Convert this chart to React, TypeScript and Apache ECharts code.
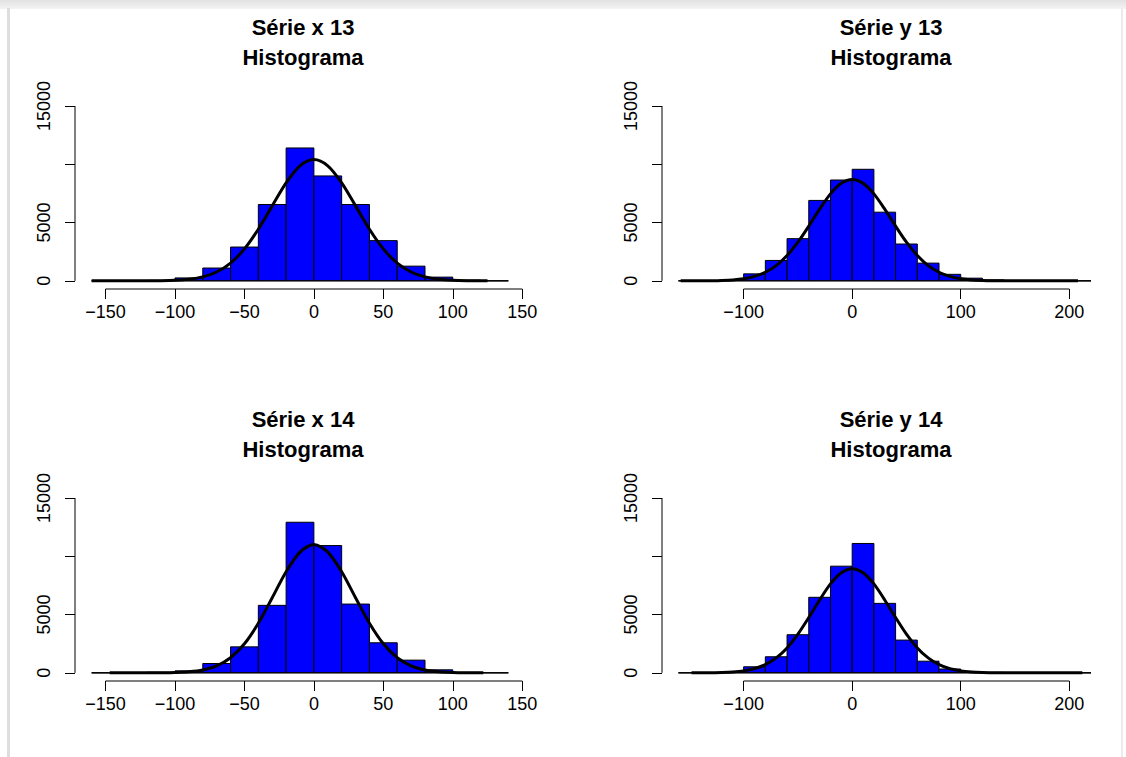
import React, { useEffect, useRef } from "react";
import * as echarts from "echarts";

const FONT = '"Liberation Sans", Arial, Helvetica, sans-serif';

// Histogram breaks
const breaksX = [-160, -140, -120, -100, -80, -60, -40, -20, 0, 20, 40, 60, 80, 100, 120, 140];
const breaksY = [-160, -140, -120, -100, -80, -60, -40, -20, 0, 20, 40, 60, 80, 100, 120, 140, 160, 180, 200, 220];

// Counts per bin
const countsX13 = [0, 5, 40, 250, 1100, 2900, 6550, 11400, 9000, 6550, 3450, 1260, 320, 60, 5];
const countsY13 = [5, 20, 90, 600, 1750, 3620, 6900, 8650, 9570, 5890, 3160, 1520, 560, 230, 80, 25, 10, 3, 1];
const countsX14 = [2, 10, 50, 170, 800, 2230, 5790, 12920, 10920, 5900, 2580, 1090, 260, 40, 5];
const countsY14 = [5, 25, 110, 520, 1380, 3270, 6480, 9150, 11100, 5960, 2810, 1000, 330, 110, 40, 15, 5, 2, 1];

// Density curves
const curveX13x = [-160, -150, -140, -130, -120, -110, -100, -90, -80, -70, -60, -50, -40, -30, -20, -10, 0, 10, 20, 30, 40, 50, 60, 70, 80, 90, 100, 110, 120, 125];
const curveX13y = [0, 0, 0, 1, 5, 15, 50, 140, 340, 760, 1520, 2740, 4430, 6430, 8400, 9860, 10400, 9860, 8400, 6430, 4430, 2740, 1520, 760, 340, 140, 50, 15, 5, 3];

const curveY13x = [-158, -150, -140, -130, -120, -110, -100, -90, -80, -70, -60, -50, -40, -30, -20, -10, 0, 10, 20, 30, 40, 50, 60, 70, 80, 90, 100, 110, 120, 130, 140, 150, 160, 170, 180, 190, 200, 208];
const curveY13y = [1, 2, 5, 13, 34, 82, 184, 382, 737, 1310, 2170, 3315, 4690, 6150, 7460, 8370, 8700, 8370, 7460, 6150, 4690, 3315, 2170, 1310, 737, 382, 184, 82, 34, 13, 5, 2, 0, 0, 0, 0, 0, 0];

const curveX14x = [-147, -140, -130, -120, -110, -100, -90, -80, -70, -60, -50, -40, -30, -20, -10, 0, 10, 20, 30, 40, 50, 60, 70, 80, 90, 100, 110, 120, 122];
const curveX14y = [0, 0, 0, 2, 8, 29, 89, 245, 600, 1295, 2490, 4250, 6440, 8670, 10360, 11000, 10360, 8670, 6440, 4250, 2490, 1295, 600, 245, 89, 29, 8, 2, 2];

const curveY14x = [-148, -140, -130, -120, -110, -100, -90, -80, -70, -60, -50, -40, -30, -20, -10, 0, 10, 20, 30, 40, 50, 60, 70, 80, 90, 100, 110, 120, 130, 140, 150, 160, 170, 180, 190, 200, 212];
const curveY14y = [1, 4, 12, 30, 74, 169, 359, 705, 1280, 2140, 3315, 4740, 6250, 7630, 8590, 8940, 8590, 7630, 6250, 4740, 3315, 2140, 1280, 705, 359, 169, 74, 30, 12, 4, 1, 0, 0, 0, 0, 0, 0];

// Tick values
const xTicksX = [-150, -100, -50, 0, 50, 100, 150];
const xTicksY = [-100, 0, 100, 200];
const yTicks = [0, 5000, 10000, 15000];
const yLabels = [0, 5000, 15000];

const titles = ["Série x 13\nHistograma", "Série y 13\nHistograma", "Série x 14\nHistograma", "Série y 14\nHistograma"];

const Y_MIN = -700;
const Y_MAX = 15600;

const panels = [
  { title: titles[0], breaks: breaksX, counts: countsX13, cx: curveX13x, cy: curveX13y, ticks: xTicksX, xMin: -172, xMax: 152, left: 75, width: 450, top: 99, titleX: 303, titleY: 12 },
  { title: titles[1], breaks: breaksY, counts: countsY13, cx: curveY13x, cy: curveY13y, ticks: xTicksY, xMin: -175.2, xMax: 235.2, left: 662, width: 445.5, top: 99, titleX: 891, titleY: 12 },
  { title: titles[2], breaks: breaksX, counts: countsX14, cx: curveX14x, cy: curveX14y, ticks: xTicksX, xMin: -172, xMax: 152, left: 75, width: 450, top: 491, titleX: 303, titleY: 404 },
  { title: titles[3], breaks: breaksY, counts: countsY14, cx: curveY14x, cy: curveY14y, ticks: xTicksY, xMin: -175.2, xMax: 235.2, left: 662, width: 445.5, top: 491, titleX: 891, titleY: 404 },
];

const fmt = (v: number) => (v < 0 ? "\u2212" + Math.abs(v) : String(v));

function buildOption() {
  const grid: any[] = [];
  const xAxis: any[] = [];
  const yAxis: any[] = [];
  const series: any[] = [];
  const graphic: any[] = [];

  panels.forEach((p, i) => {
    grid.push({ left: p.left, top: p.top, width: p.width, height: 190 });
    xAxis.push({
      type: "value",
      gridIndex: i,
      position: "bottom",
      min: p.xMin,
      max: p.xMax,
      splitLine: { show: false },
      axisLine: { show: false, onZero: false },
      axisTick: { show: true, customValues: p.ticks, length: 10, lineStyle: { color: "#000", width: 1 } },
      axisLabel: {
        customValues: p.ticks,
        margin: 14,
        color: "#000",
        fontSize: 18,
        fontFamily: FONT,
        hideOverlap: false,
        formatter: fmt,
      },
    });
    yAxis.push({
      type: "value",
      gridIndex: i,
      position: "left",
      min: Y_MIN,
      max: Y_MAX,
      splitLine: { show: false },
      axisLine: { show: false, onZero: false },
      axisTick: { show: true, customValues: yTicks, length: 10, lineStyle: { color: "#000", width: 1 } },
      axisLabel: {
        customValues: yLabels,
        rotate: 90,
        margin: 22,
        color: "#000",
        fontSize: 18,
        fontFamily: FONT,
        hideOverlap: false,
        formatter: fmt,
      },
    });

    const bins = p.counts.map((c, k) => [p.breaks[k], p.breaks[k + 1], c]);
    series.push({
      type: "custom",
      xAxisIndex: i,
      yAxisIndex: i,
      silent: true,
      encode: { x: [0, 1], y: 2 },
      data: bins,
      renderItem: (params: any, api: any) => {
        const x0 = api.value(0);
        const x1 = api.value(1);
        const c = api.value(2);
        const a = api.coord([x0, c]);
        const b = api.coord([x1, 0]);
        return {
          type: "rect",
          shape: { x: a[0], y: a[1], width: b[0] - a[0], height: b[1] - a[1] },
          style: { fill: "#0000ff", stroke: "#000", lineWidth: 1 },
        };
      },
    });
    // baseline spanning all breaks (zero-height bins)
    series.push({
      type: "line",
      xAxisIndex: i,
      yAxisIndex: i,
      silent: true,
      symbol: "none",
      clip: false,
      lineStyle: { color: "#000", width: 1 },
      data: [
        [p.breaks[0], 0],
        [p.breaks[p.breaks.length - 1], 0],
      ],
    });
    // density curve
    series.push({
      type: "line",
      xAxisIndex: i,
      yAxisIndex: i,
      silent: true,
      symbol: "none",
      smooth: 0.3,
      lineStyle: { color: "#000", width: 3 },
      data: p.cx.map((x, k) => [x, p.cy[k]]),
    });
    // x axis line (first to last tick)
    series.push({
      type: "line",
      xAxisIndex: i,
      yAxisIndex: i,
      silent: true,
      symbol: "none",
      clip: false,
      lineStyle: { color: "#000", width: 1 },
      data: [
        [p.ticks[0], Y_MIN],
        [p.ticks[p.ticks.length - 1], Y_MIN],
      ],
    });
    // y axis line (first to last tick)
    series.push({
      type: "line",
      xAxisIndex: i,
      yAxisIndex: i,
      silent: true,
      symbol: "none",
      clip: false,
      lineStyle: { color: "#000", width: 1 },
      data: [
        [p.xMin, yTicks[0]],
        [p.xMin, yTicks[yTicks.length - 1]],
      ],
    });

    graphic.push({
      type: "text",
      x: p.titleX,
      y: p.titleY,
      style: {
        text: p.title,
        fill: "#000",
        font: `bold 22px ${FONT}`,
        lineHeight: 30,
        align: "center",
        verticalAlign: "top",
      },
    });
  });

  return { animation: false, backgroundColor: "transparent", grid, xAxis, yAxis, series, graphic };
}

export default function App() {
  const ref = useRef<HTMLDivElement>(null);
  useEffect(() => {
    if (!ref.current) return;
    const chart = echarts.init(ref.current, undefined, { renderer: "svg" });
    chart.setOption(buildOption());
    return () => chart.dispose();
  }, []);
  return (
    <div style={{ position: "fixed", left: 0, top: 0, width: 1126, height: 757, background: "#fff", overflow: "hidden" }}>
      <div style={{ position: "absolute", left: 0, top: 0, width: 1126, height: 9, background: "linear-gradient(#e2e2e2, #f3f3f3)" }} />
      <div style={{ position: "absolute", left: 7, top: 8, width: 3, height: 749, background: "#dedede" }} />
      <div style={{ position: "absolute", left: 1121, top: 8, width: 2, height: 749, background: "#ebebeb" }} />
      <div ref={ref} style={{ position: "absolute", left: 0, top: 0, width: 1126, height: 757 }} />
    </div>
  );
}
